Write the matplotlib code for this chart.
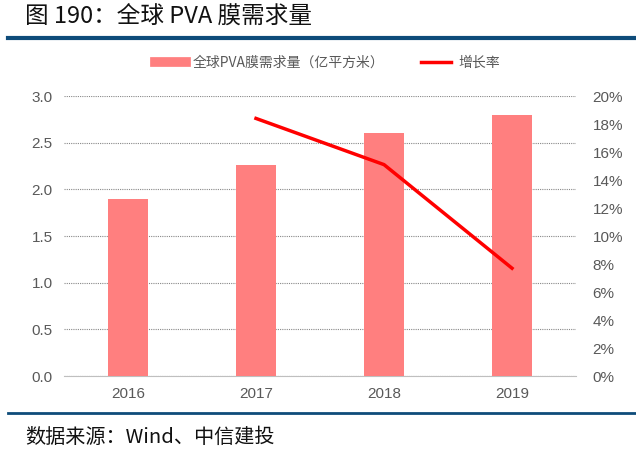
import numpy as np
import matplotlib.pyplot as plt
from matplotlib.lines import Line2D

plt.rcParams['font.family'] = ['Noto Sans CJK SC', 'DejaVu Sans']

# data
years = ['2016', '2017', '2018', '2019']
demand = [1.9, 2.26, 2.6, 2.8]          # 亿平方米
growth_years = ['2017', '2018', '2019']
growth = [18.4, 15.1, 7.7]              # %

bar_color = '#FF7F7F'
line_color = '#FF0000'
tick_color = '#595959'
rule_color = '#0E4C7A'
num_font = ['Liberation Sans', 'DejaVu Sans']


def main():
    fig = plt.figure(figsize=(6.36, 4.5), dpi=100)
    ax = fig.add_axes([0.1006, 0.1644, 0.8051, 0.6222])

    x = np.arange(len(years))
    ax.bar(x, demand, width=0.31, color=bar_color, zorder=3)
    ax.set_xlim(-0.5, len(years) - 0.5)
    ax.set_ylim(0, 3.0)
    ticks = np.arange(0, 3.01, 0.5)
    ax.set_yticks(ticks)
    ax.set_yticklabels([f'{v:.1f}' for v in ticks], family=num_font)
    ax.set_xticks(x)
    ax.set_xticklabels(years, family=num_font)
    ax.yaxis.grid(True, color='#888888', linestyle=(0, (1, 1)), linewidth=0.8, zorder=0)
    for s in ['top', 'right', 'left']:
        ax.spines[s].set_visible(False)
    ax.spines['bottom'].set_color('#BFBFBF')
    ax.tick_params(axis='both', length=0, colors=tick_color, labelsize=11, pad=8)

    ax2 = ax.twinx()
    gx = [years.index(y) for y in growth_years]
    ax2.plot(gx, growth, color=line_color, linewidth=2.5, zorder=4)
    ax2.set_ylim(0, 20)
    ax2.set_yticks(np.arange(0, 21, 2))
    ax2.set_yticklabels([f'{v}%' for v in range(0, 21, 2)], family=num_font)
    for s in ax2.spines.values():
        s.set_visible(False)
    ax2.tick_params(axis='y', length=0, colors=tick_color, labelsize=11, pad=12)

    # legend
    handles = [Line2D([], [], color=bar_color, linewidth=7),
               Line2D([], [], color=line_color, linewidth=2.5)]
    labels = ['全球PVA膜需求量（亿平方米）', '增长率']
    fig.legend(handles, labels, loc='center', bbox_to_anchor=(0.515, 0.86),
               ncol=2, frameon=False, fontsize=10, handlelength=2.2,
               handletextpad=0.5, columnspacing=2.6, labelcolor=tick_color)

    # title, rules and source
    fig.text(0.04, 0.962, '图 190：全球 PVA 膜需求量', fontsize=17, va='center', color='#111111')
    fig.add_artist(Line2D([0.013, 1.0], [0.915, 0.915], color=rule_color, linewidth=3))
    fig.add_artist(Line2D([0.013, 1.0], [0.082, 0.082], color=rule_color, linewidth=2))
    fig.text(0.04, 0.028, '数据来源：Wind、中信建投', fontsize=14.5, style='italic',
             va='center', color='#111111')

    fig.savefig('out.png', dpi=100)


if __name__ == '__main__':
    main()
